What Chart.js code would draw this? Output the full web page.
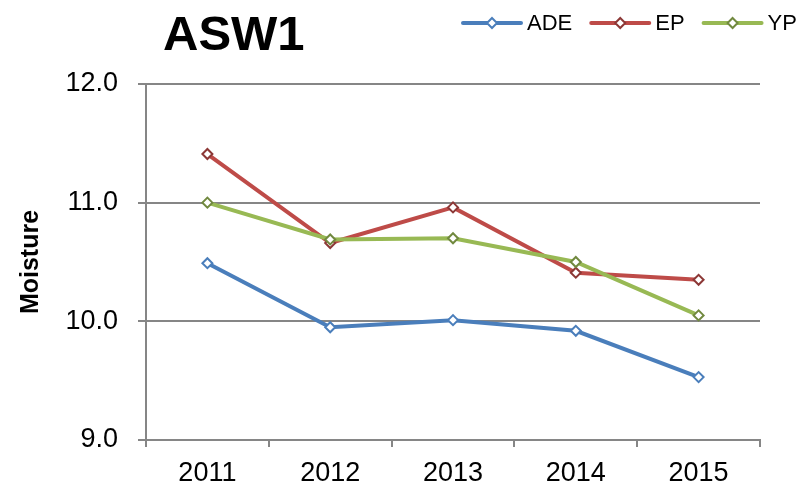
<!DOCTYPE html>
<html>
<head>
<meta charset="utf-8">
<script src="https://cdn.jsdelivr.net/npm/chart.js@4"></script>
<style>
  html, body { margin: 0; padding: 0; background: #fff; }
  #wrap { width: 796px; height: 492px; }
</style>
</head>
<body>
<div id="wrap"><canvas id="moisture_chart" width="796" height="492"></canvas></div>
<script>
const chartTitle = 'ASW1';
const years = ['2011', '2012', '2013', '2014', '2015'];
const seriesNames = ['ADE', 'EP', 'YP'];
const adeValues = [10.49, 9.95, 10.01, 9.92, 9.53];
const epValues = [11.41, 10.66, 10.96, 10.41, 10.35];
const ypValues = [11.00, 10.69, 10.70, 10.50, 10.05];
const yMin = 9;
const yMax = 12;
const yStep = 1;

const FONT = '"Liberation Sans", Arial, sans-serif';
const GRID = '#868686';

// title + legend drawn on the canvas (legend shows line with marker in the middle)
const headerPlugin = {
    id: 'header',
    afterDraw(chart) {
        const ctx = chart.ctx;
        ctx.save();
        ctx.fillStyle = '#000';
        ctx.font = 'bold 49px ' + FONT;
        ctx.textBaseline = 'alphabetic';
        ctx.textAlign = 'left';
        ctx.fillText(chartTitle, 163, 50);

        ctx.font = '22px ' + FONT;
        ctx.textBaseline = 'middle';
        let x = 463;
        const y = 23;
        chart.data.datasets.forEach(ds => {
            ctx.strokeStyle = ds.borderColor;
            ctx.lineWidth = 4;
            ctx.lineCap = 'round';
            ctx.beginPath();
            ctx.moveTo(x, y);
            ctx.lineTo(x + 58, y);
            ctx.stroke();
            const mx = x + 29, r = 5;
            ctx.beginPath();
            ctx.moveTo(mx, y - r);
            ctx.lineTo(mx + r, y);
            ctx.lineTo(mx, y + r);
            ctx.lineTo(mx - r, y);
            ctx.closePath();
            ctx.fillStyle = '#fff';
            ctx.fill();
            ctx.lineWidth = 2;
            ctx.strokeStyle = ds.pointBorderColor;
            ctx.stroke();
            ctx.fillStyle = '#000';
            ctx.fillText(ds.label, x + 64, y + 1);
            x += 64 + ctx.measureText(ds.label).width + 19;
        });
        ctx.restore();
    }
};

const ctx = document.getElementById('moisture_chart');
new Chart(ctx, {
    type: 'line',
    data: {
        labels: years,
        datasets: [
            {
                label: seriesNames[0],
                data: adeValues,
                borderColor: '#4a7ebb',
                pointBorderColor: '#4a7ebb',
                order: 2
            },
            {
                label: seriesNames[1],
                data: epValues,
                borderColor: '#be4b48',
                pointBorderColor: '#8c3836',
                order: 1
            },
            {
                label: seriesNames[2],
                data: ypValues,
                borderColor: '#98b954',
                pointBorderColor: '#71893f',
                order: 0
            }
        ].map(ds => Object.assign({
            borderWidth: 4,
            tension: 0,
            fill: false,
            pointStyle: 'rectRot',
            pointRadius: 5,
            pointHoverRadius: 5,
            pointBorderWidth: 2,
            pointBackgroundColor: '#fff'
        }, ds))
    },
    options: {
        responsive: false,
        animation: false,
        layout: { padding: { top: 84, right: 36, bottom: 0, left: 0 } },
        plugins: {
            legend: { display: false },
            title: { display: false },
            tooltip: { enabled: false }
        },
        scales: {
            x: {
                offset: true,
                grid: {
                    offset: true,
                    drawOnChartArea: false,
                    drawTicks: true,
                    tickLength: 7,
                    color: GRID,
                    lineWidth: 2
                },
                border: { display: true, color: GRID, width: 2 },
                ticks: {
                    color: '#000',
                    padding: 10,
                    font: { family: FONT, size: 27 },
                    maxRotation: 0
                },
                afterFit(scale) { scale.height = 52; }
            },
            y: {
                min: yMin,
                max: yMax,
                grid: {
                    color: GRID,
                    lineWidth: 2,
                    tickLength: 8
                },
                border: { display: true, color: GRID, width: 2 },
                ticks: {
                    stepSize: yStep,
                    color: '#000',
                    padding: 20,
                    font: { family: FONT, size: 27 },
                    callback: v => v.toFixed(1)
                },
                title: {
                    display: true,
                    text: 'Moisture',
                    color: '#000',
                    font: { family: FONT, size: 25, weight: 'bold' },
                    padding: { top: 16, bottom: 0 }
                },
                afterFit(scale) { scale.width = 146; }
            }
        }
    },
    plugins: [headerPlugin]
});
</script>
</body>
</html>
